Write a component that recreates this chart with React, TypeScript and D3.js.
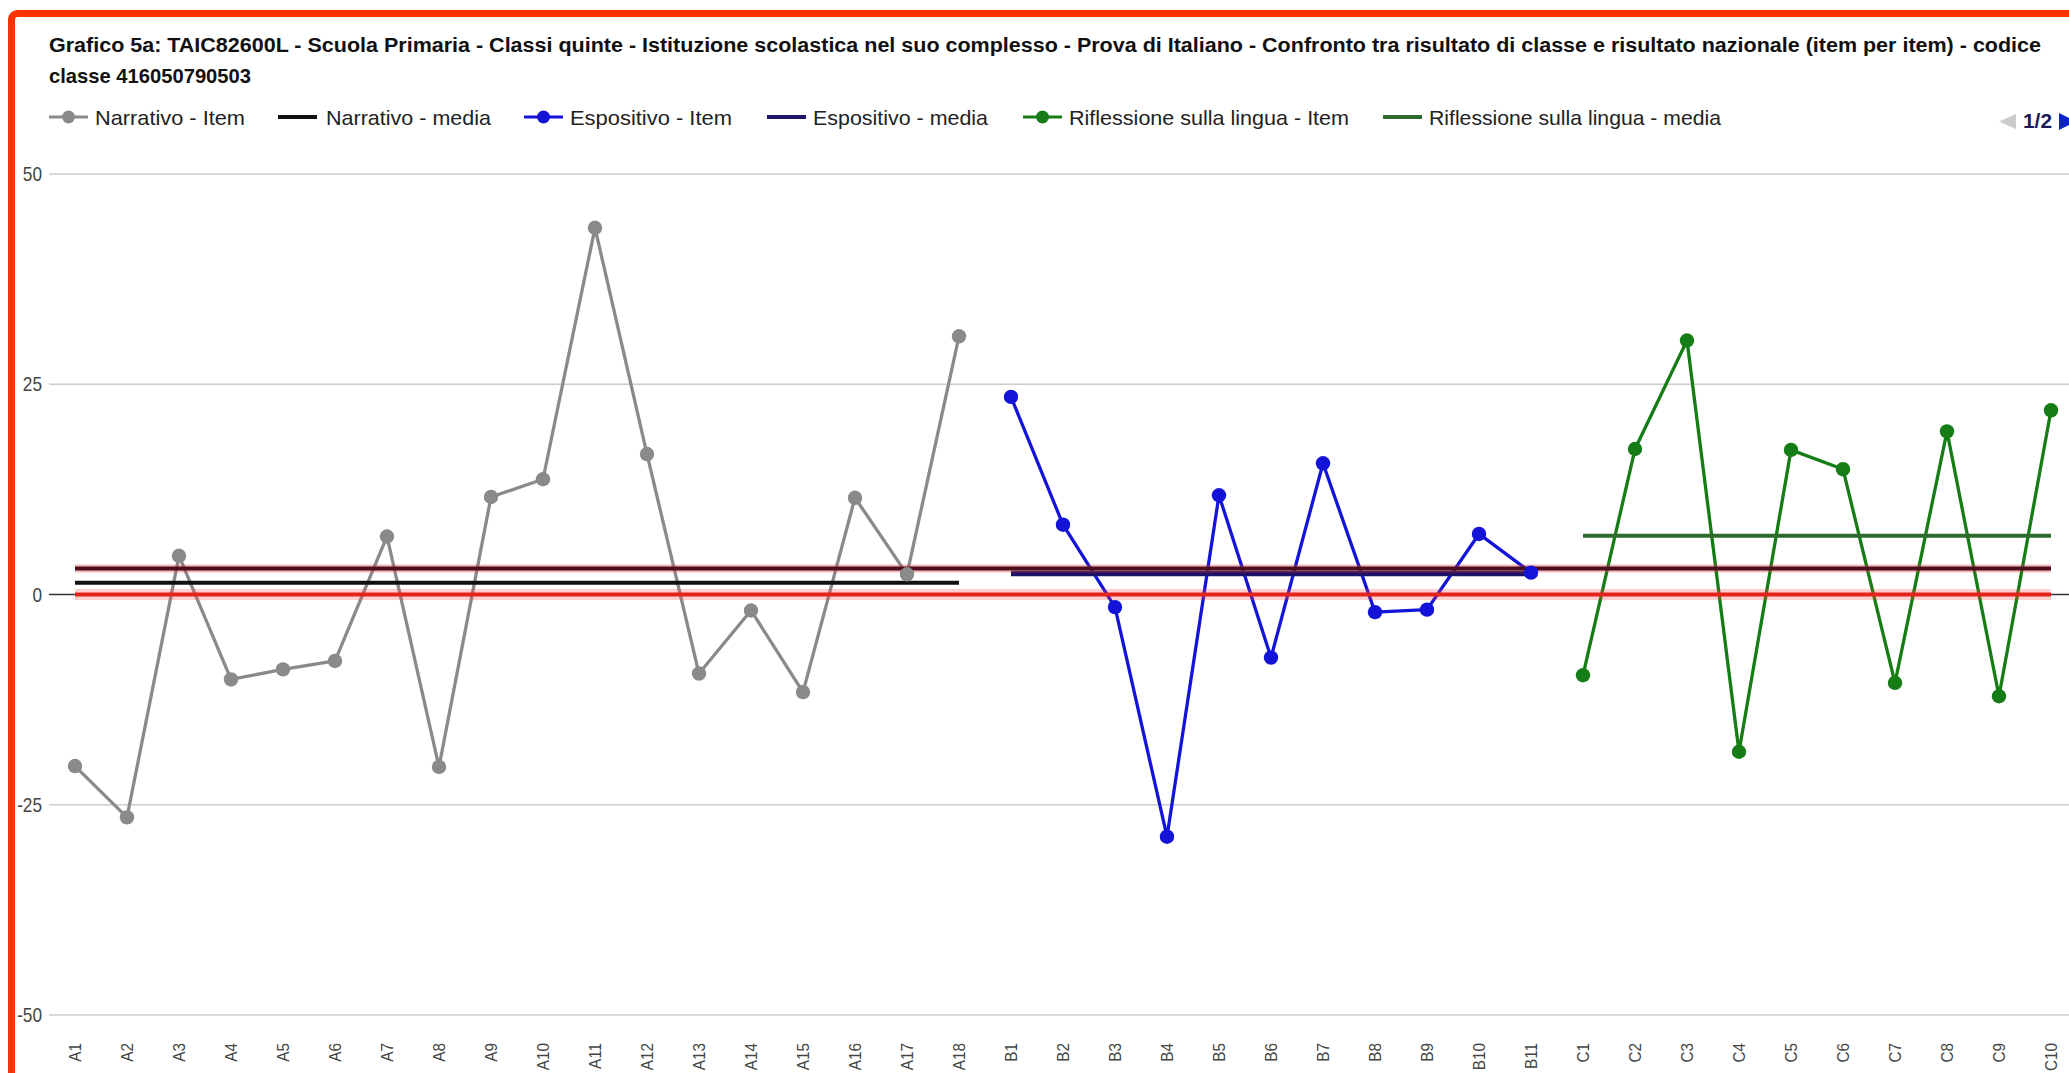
import React from "react";
import * as d3 from "d3";

const categories = [
  "A1","A2","A3","A4","A5","A6","A7","A8","A9","A10","A11","A12","A13","A14","A15","A16","A17","A18",
  "B1","B2","B3","B4","B5","B6","B7","B8","B9","B10","B11",
  "C1","C2","C3","C4","C5","C6","C7","C8","C9","C10",
];
const narrativoCats = categories.slice(0, 18);
const espositivoCats = categories.slice(18, 29);
const riflessioneCats = categories.slice(29);

const narrativoItem = [-20.4, -26.5, 4.6, -10.1, -8.9, -7.9, 6.9, -20.5, 11.6, 13.7, 43.6, 16.7, -9.4, -1.9, -11.6, 11.5, 2.4, 30.7];
const espositivoItem = [23.5, 8.3, -1.5, -28.8, 11.8, -7.5, 15.6, -2.1, -1.8, 7.2, 2.6];
const riflessioneItem = [-9.6, 17.3, 30.2, -18.7, 17.2, 14.9, -10.5, 19.4, -12.1, 21.9];
const narrativoMedia = 1.4;
const espositivoMedia = 2.5;
const riflessioneMedia = 7.0;
const totaleMedia = 3.1;
const nazionale = 0;

const yTicks = [50, 25, 0, -25, -50];

const titleLine1 =
  "Grafico 5a: TAIC82600L - Scuola Primaria - Classi quinte - Istituzione scolastica nel suo complesso - Prova di Italiano - Confronto tra risultato di classe e risultato nazionale (item per item) - codice";
const titleLine2 = "classe 416050790503";

const legendItems = [
  { label: "Narrativo - Item", color: "#8a8a8a", kind: "item" },
  { label: "Narrativo - media", color: "#111111", kind: "media" },
  { label: "Espositivo - Item", color: "#1414d8", kind: "item" },
  { label: "Espositivo - media", color: "#1c1466", kind: "media" },
  { label: "Riflessione sulla lingua - Item", color: "#167d16", kind: "item" },
  { label: "Riflessione sulla lingua - media", color: "#2d6b2d", kind: "media" },
];
// legend layout (symbol start, text start, text end)
const legendPos = [
  [49, 95, 245],
  [278, 326, 491],
  [524, 570, 732],
  [767, 813, 988],
  [1023, 1069, 1349],
  [1383, 1429, 1721],
];

const W = 2069;
const H = 1073;
const FONT = "'Liberation Sans', Arial, sans-serif";

export default function App() {
  const x = d3.scaleBand<string>().domain(categories).range([49, 49 + categories.length * 52]).padding(0);
  const cx = (c: string) => (x(c) as number) + x.bandwidth() / 2;
  const y = d3.scaleLinear().domain([-50, 50]).range([1015, 174]);

  const line = d3
    .line<[string, number]>()
    .x((d) => cx(d[0]))
    .y((d) => y(d[1]));

  const series = [
    { cats: narrativoCats, vals: narrativoItem, color: "#8a8a8a" },
    { cats: espositivoCats, vals: espositivoItem, color: "#1414d8" },
    { cats: riflessioneCats, vals: riflessioneItem, color: "#167d16" },
  ];
  const medias = [
    { cats: narrativoCats, v: narrativoMedia, color: "#111111", w: 4 },
    { cats: espositivoCats, v: espositivoMedia, color: "#1c1466", w: 5.5 },
    { cats: riflessioneCats, v: riflessioneMedia, color: "#2d6b2d", w: 4 },
  ];
  const hline = (cats: string[], v: number) => line(cats.map((c) => [c, v] as [string, number])) as string;

  return (
    <svg width={W} height={H} style={{ position: "absolute", left: 0, top: 0, background: "#fff" }}>
      <rect x={0} y={0} width={W} height={H} fill="#fff" />
      {/* title */}
      <text x={49} y={52} fontFamily={FONT} fontWeight="bold" fontSize={20} fill="#111"
        textLength={1992} lengthAdjust="spacingAndGlyphs">{titleLine1}</text>
      <text x={49} y={83} fontFamily={FONT} fontWeight="bold" fontSize={21} fill="#111"
        textLength={202} lengthAdjust="spacingAndGlyphs">{titleLine2}</text>

      {/* legend */}
      {legendItems.map((it, i) => {
        const [s, t0, t1] = legendPos[i];
        return (
          <g key={it.label}>
            <line x1={s} x2={s + 39} y1={117} y2={117} stroke={it.color}
              strokeWidth={it.kind === "item" ? 3 : 4} />
            {it.kind === "item" && <circle cx={s + 19.5} cy={117} r={6.5} fill={it.color} />}
            <text x={t0} y={125} fontFamily={FONT} fontSize={21} fill="#222"
              textLength={t1 - t0} lengthAdjust="spacingAndGlyphs">{it.label}</text>
          </g>
        );
      })}
      {/* pager */}
      <path d="M2016,114 L2016,129 L1999,121.5 Z" fill="#cccccc" />
      <text x={2023} y={128} fontFamily={FONT} fontWeight="bold" fontSize={20} fill="#1a1a5c"
        textLength={29} lengthAdjust="spacingAndGlyphs">1/2</text>
      <path d="M2059,113 L2059,130 L2076,121.5 Z" fill="#0a22c8" />

      {/* gridlines */}
      {yTicks.filter((t) => t !== 0).map((t) => (
        <line key={t} x1={49} x2={W} y1={y(t)} y2={y(t)} stroke="#cccccc" strokeWidth={1.5} />
      ))}
      <line x1={49} x2={W} y1={y(0)} y2={y(0)} stroke="#333" strokeWidth={1.5} />
      {/* y labels */}
      {yTicks.map((t) => (
        <text key={t} transform={`translate(42,${y(t) + 7}) scale(0.82,1)`} textAnchor="end"
          fontFamily={FONT} fontSize={21} fill="#444">{t}</text>
      ))}
      {/* x labels */}
      {categories.map((c) => (
        <text key={c} transform={`translate(${cx(c) + 6},1043) rotate(-90) scale(0.9,1)`} textAnchor="end"
          fontFamily={FONT} fontSize={17} fill="#444">{c}</text>
      ))}

      {/* item lines */}
      {series.map((s, i) => (
        <path key={i} d={line(s.cats.map((c, j) => [c, s.vals[j]] as [string, number])) as string}
          fill="none" stroke={s.color} strokeWidth={3.3} strokeLinejoin="round" />
      ))}
      {/* media lines */}
      {medias.map((m, i) => (
        <path key={i} d={hline(m.cats, m.v)} fill="none" stroke={m.color} strokeWidth={m.w} />
      ))}
      {/* totale media */}
      <path d={hline(categories, totaleMedia)} fill="none" stroke="rgba(230,60,60,0.35)" strokeWidth={8} />
      <path d={hline(categories, totaleMedia)} fill="none" stroke="#4a0e1e" strokeWidth={4} />
      {/* nazionale */}
      <path d={hline(categories, nazionale)} fill="none" stroke="rgba(255,60,60,0.25)" strokeWidth={11} />
      <path d={hline(categories, nazionale)} fill="none" stroke="#e3231c" strokeWidth={4} />
      {/* points */}
      {series.map((s, i) => (
        <g key={i}>
          {s.cats.map((c, j) => (
            <circle key={c} cx={cx(c)} cy={y(s.vals[j])} r={7.2} fill={s.color} />
          ))}
        </g>
      ))}

      {/* frame */}
      <rect x={11.5} y={13.5} width={W + 20} height={H + 20} rx={6} fill="none" stroke="#ff3300" strokeWidth={7} />
    </svg>
  );
}
